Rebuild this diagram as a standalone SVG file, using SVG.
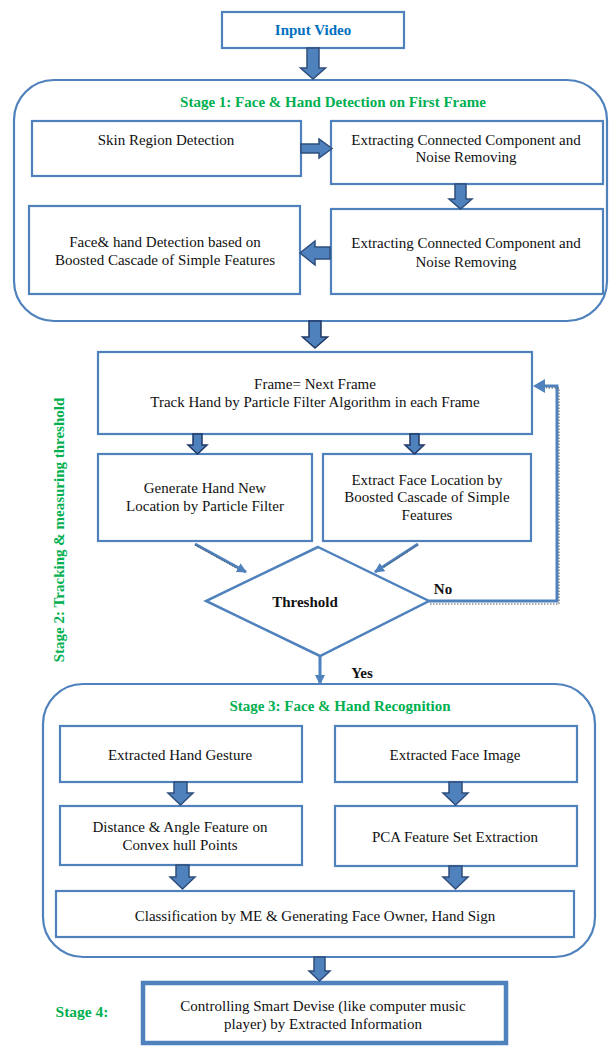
<svg xmlns="http://www.w3.org/2000/svg" width="609" height="1046" viewBox="0 0 609 1046">
<style>
.box{fill:#fff;stroke:#4F81BD;stroke-width:2.2}
.cont{fill:none;stroke:#4F81BD;stroke-width:2.2}
.t{font-family:"Liberation Serif","Times New Roman",serif;font-size:15px;fill:#111;text-anchor:middle}
.g{font-family:"Liberation Serif","Times New Roman",serif;font-size:15px;font-weight:bold;fill:#00B050;text-anchor:middle}
.b{font-family:"Liberation Serif","Times New Roman",serif;font-size:15px;font-weight:bold;fill:#111;text-anchor:middle}
.arr{fill:#4F81BD;stroke:#2E4D7B;stroke-width:1.5;stroke-linejoin:miter}
.fl{fill:none;stroke:#4F81BD;stroke-width:3}
.fd{fill:none;stroke:#555;stroke-width:1;stroke-dasharray:1.5 1.5}
</style>
<defs>
<marker id="ah" markerWidth="10" markerHeight="10" refX="9" refY="5" orient="auto" markerUnits="userSpaceOnUse" viewBox="0 0 10 10">
<path d="M0,0 L10,5 L0,10 z" fill="#4F81BD"/>
</marker>
</defs>
<rect width="609" height="1046" fill="#fff"/>

<g id="stage1-container">
<rect class="cont" x="14" y="80" width="593" height="241" rx="40"/>
<text class="g" x="333" y="107">Stage 1: Face &amp; Hand Detection on First Frame</text>
</g>
<g id="stage3-container">
<rect class="cont" x="43" y="684" width="552" height="273" rx="40"/>
<text class="g" x="340" y="711">Stage 3: Face &amp; Hand Recognition</text>
</g>
<g id="stage2-label">
<text class="g" transform="translate(64,530) rotate(-90)">Stage 2: Tracking &amp; measuring threshold</text>
</g>
<g id="stage4-label">
<text class="g" x="82" y="1017" style="font-size:15.5px">Stage 4:</text>
</g>

<g id="input-video">
<rect class="box" x="222" y="12" width="182" height="36"/>
<text class="b" x="313" y="35" style="fill:#0070C0">Input Video</text>
</g>
<g id="skin">
<rect class="box" x="32" y="121" width="269" height="55"/>
<text class="t" x="166" y="144.5">Skin Region Detection</text>
</g>
<g id="extract1">
<rect class="box" x="331" y="121" width="272" height="63"/>
<text class="t" x="466" y="144.5">Extracting Connected Component and</text>
<text class="t" x="466" y="161.5">Noise Removing</text>
</g>
<g id="extract2">
<rect class="box" x="331" y="209" width="272" height="85"/>
<text class="t" x="466" y="247.5">Extracting Connected Component and</text>
<text class="t" x="466" y="266.5">Noise Removing</text>
</g>
<g id="face-hand-detect">
<rect class="box" x="29" y="206" width="271" height="88"/>
<text class="t" x="165" y="246.5">Face&amp; hand Detection based on</text>
<text class="t" x="165" y="264.5">Boosted Cascade of Simple Features</text>
</g>

<g id="frame">
<rect class="box" x="98" y="352" width="434" height="82"/>
<text class="t" x="315" y="388.5">Frame= Next Frame</text>
<text class="t" x="315" y="406.5">Track Hand by Particle Filter Algorithm in each Frame</text>
</g>
<g id="generate">
<rect class="box" x="98" y="454" width="214" height="87"/>
<text class="t" x="205" y="492.5">Generate Hand New</text>
<text class="t" x="205" y="510.5">Location by Particle Filter</text>
</g>
<g id="extract-face">
<rect class="box" x="323" y="454" width="208" height="87"/>
<text class="t" x="427" y="484.5">Extract Face Location by</text>
<text class="t" x="427" y="501.5">Boosted Cascade of Simple</text>
<text class="t" x="427" y="519.5">Features</text>
</g>
<g id="threshold">
<polygon points="318,547 429,601 320,656 206,601" fill="#fff" stroke="#4F81BD" stroke-width="2.5"/>
<text class="b" x="305" y="607">Threshold</text>
</g>

<g id="hand-gesture">
<rect class="box" x="60" y="726" width="242" height="56"/>
<text class="t" x="180" y="759.5">Extracted Hand Gesture</text>
</g>
<g id="face-image">
<rect class="box" x="335" y="726" width="242" height="56"/>
<text class="t" x="455" y="759.5">Extracted Face Image</text>
</g>
<g id="distance">
<rect class="box" x="60" y="806" width="242" height="59"/>
<text class="t" x="180" y="831.5">Distance &amp; Angle Feature on</text>
<text class="t" x="180" y="849.5">Convex hull Points</text>
</g>
<g id="pca">
<rect class="box" x="335" y="806" width="242" height="60"/>
<text class="t" x="455" y="841.5">PCA Feature Set Extraction</text>
</g>
<g id="classification">
<rect class="box" x="56" y="891" width="518" height="46"/>
<text class="t" x="315" y="920.5">Classification by ME &amp; Generating Face Owner, Hand Sign</text>
</g>
<g id="controlling">
<rect x="143" y="983" width="363" height="60" fill="#fff" stroke="#4F81BD" stroke-width="4.5"/>
<text class="t" x="323" y="1010.5">Controlling Smart Devise (like computer music</text>
<text class="t" x="323" y="1028.5">player) by Extracted Information</text>
</g>

<g id="connectors">
<polygon class="arr" points="307,48 319,48 319,68 325.5,68 313,79 300.5,68 307,68"/>
<polygon class="arr" points="301,144 319,144 319,139 332,148.5 319,158 319,153 301,153"/>
<polygon class="arr" points="455,184 466,184 466,199 472,199 460.5,209 449,199 455,199"/>
<polygon class="arr" points="330,247 315,247 315,241 300,253 315,265 315,259 330,259"/>
<polygon class="arr" points="309,321 321,321 321,337 327.5,337 315,348 302.5,337 309,337" style="stroke:#1F3864"/>
<polygon class="arr" points="193,434 202,434 202,445 207,445 197.5,454 188,445 193,445" style="stroke:#1F3864"/>
<polygon class="arr" points="410,434 419,434 419,445 424,445 414.5,454 405,445 410,445" style="stroke:#1F3864"/>
<polygon class="arr" points="174,782 187,782 187,793 193,793 180.5,805 168,793 174,793"/>
<polygon class="arr" points="449,782 462,782 462,793 468,793 455.5,805 443,793 449,793"/>
<polygon class="arr" points="176,865 189,865 189,877 195,877 182.5,889 170,877 176,877"/>
<polygon class="arr" points="449,866 462,866 462,877 468,877 455.5,889 443,877 449,877"/>
<polygon class="arr" points="314,957 325,957 325,971 330,971 319.5,981 309,971 314,971"/>
<line x1="195" y1="544" x2="246" y2="572" stroke="#4F81BD" stroke-width="3" marker-end="url(#ah)"/>
<line x1="195" y1="545" x2="236" y2="568" class="fd"/>
<line x1="418" y1="544" x2="375" y2="572" stroke="#4F81BD" stroke-width="3" marker-end="url(#ah)"/>
<line x1="418" y1="545" x2="384" y2="567" class="fd"/>
<line x1="320" y1="656" x2="320" y2="684" stroke="#4F81BD" stroke-width="3" marker-end="url(#ah)"/>
<polyline class="fl" points="429,601 557,601 557,386 542,386"/>
<polygon points="533,386 545,379 545,393" fill="#4F81BD"/>
<polyline class="fd" points="430,604 559,604 559,388 546,388"/>
<text class="b" x="443" y="594">No</text>
<text class="b" x="362" y="678">Yes</text>
</g>
</svg>
